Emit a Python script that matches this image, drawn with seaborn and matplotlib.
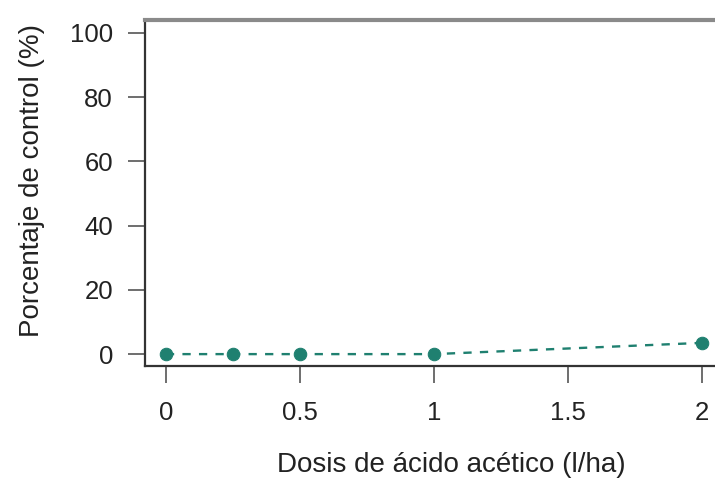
import matplotlib
matplotlib.use("Agg")
import matplotlib.pyplot as plt
import seaborn as sns
import pandas as pd

# Data
dosis = [0, 0.25, 0.5, 1, 2]
control = [0, 0, 0, 0, 3.5]

x_ticks = [0, 0.5, 1, 1.5, 2]
x_tick_labels = ["0", "0.5", "1", "1.5", "2"]
y_ticks = [0, 20, 40, 60, 80, 100]

teal = "#1f8070"

sns.set_style("white")
plt.rcParams["font.family"] = ["Liberation Sans", "DejaVu Sans"]

df = pd.DataFrame({"dosis": dosis, "control": control})

fig = plt.figure(figsize=(7.15, 4.83), dpi=100)
ax = fig.add_axes([145 / 715, 1 - 366 / 483, 1 - 145 / 715, (366 - 20) / 483])

sns.lineplot(data=df, x="dosis", y="control", ax=ax, color=teal,
             linewidth=1.7, marker="o", markersize=9,
             markeredgecolor=teal, dashes=False)
ax.lines[0].set_linestyle((0, (3.5, 3.5)))

ax.set_xlim(-0.078, 2.049)
ax.set_ylim(-3.7, 104)
ax.set_xticks(x_ticks)
ax.set_xticklabels(x_tick_labels)
ax.set_yticks(y_ticks)

ax.set_xlabel("Dosis de ácido acético (l/ha)", fontsize=20, color="#222222")
ax.set_ylabel("Porcentaje de control (%)", fontsize=20, color="#222222")
ax.xaxis.set_label_coords(0.538, -0.286)
ax.xaxis.label.set_va("center")
ax.yaxis.set_label_coords(-0.198, 0.535)
ax.yaxis.label.set_va("center")

ax.tick_params(axis="both", which="major", direction="out", length=12, width=1.2,
               color="#555555", labelsize=18.5, labelcolor="#222222",
               bottom=True, left=True)
ax.tick_params(axis="x", pad=13)
ax.tick_params(axis="y", pad=11)

for side in ["left", "bottom"]:
    ax.spines[side].set_color("#333333")
    ax.spines[side].set_linewidth(1.6)
ax.spines["top"].set_color("#8a8a8a")
ax.spines["top"].set_linewidth(3)
ax.spines["right"].set_visible(False)

fig.savefig("out.png", dpi=100)
